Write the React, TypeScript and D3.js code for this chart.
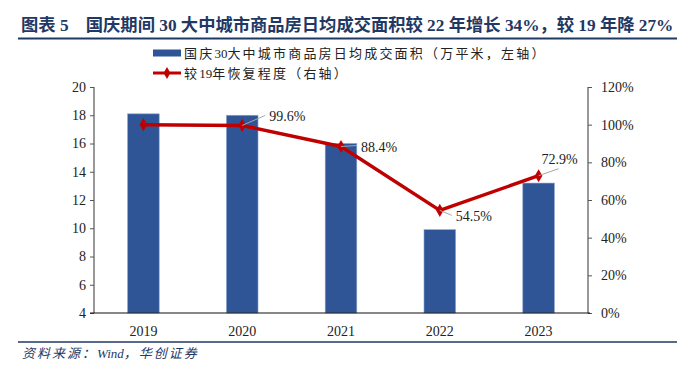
import React, { useEffect, useRef } from 'react';
import * as d3 from 'd3';

// chart data
const years = ['2019', '2020', '2021', '2022', '2023'];
const dailyArea = [18.1, 18.0, 16.0, 9.9, 13.2];
const recovery = [100, 99.6, 88.4, 54.5, 72.9];
const recoveryLabels = ['', '99.6%', '88.4%', '54.5%', '72.9%'];
const leftTicks = [4, 6, 8, 10, 12, 14, 16, 18, 20];
const rightTicks = [0, 20, 40, 60, 80, 100, 120];

const TITLE = '图表 5　国庆期间 30 大中城市商品房日均成交面积较 22 年增长 34%，较 19 年降 27%';
const BAR_NAME = ['国庆', '30', '大中城市商品房日均成交面积（万平米，左轴）'];
const LINE_NAME = ['较', '19', '年恢复程度（右轴）'];
const SOURCE = ['资料来源：', 'Wind', '，华创证券'];

const FONT = "'Liberation Serif', 'Noto Sans CJK SC', serif";
const BLUE = '#2F5597';
const RED = '#C00000';
const DARK = '#1F3864';

// cjk parts get extra spacing, latin/digit parts none
function spaced(sel: any, parts: string[], gap: number) {
  parts.forEach((p, i) => {
    sel.append('tspan')
      .style('letter-spacing', i % 2 === 0 ? gap + 'px' : '0px')
      .text(p);
  });
}

export default function App() {
  const ref = useRef<SVGSVGElement>(null);

  useEffect(() => {
    const svg = d3.select(ref.current);
    svg.selectAll('*').remove();

    const margin = { top: 87, left: 94, right: 105, bottom: 57 };
    const W = 693, H = 370;
    const width = W - margin.left - margin.right;
    const height = H - margin.top - margin.bottom;

    // TITLE + RULES
    svg.append('text')
      .attr('x', 21).attr('y', 31)
      .style('font-family', FONT).style('font-size', '17.3px').style('font-weight', 'bold')
      .attr('fill', DARK)
      .text(TITLE);
    svg.append('line').attr('x1', 18).attr('x2', 677).attr('y1', 38.5).attr('y2', 38.5)
      .attr('stroke', DARK).attr('stroke-width', 2);
    svg.append('line').attr('x1', 18).attr('x2', 677).attr('y1', 342).attr('y2', 342)
      .attr('stroke', DARK).attr('stroke-width', 1.5);
    const src = svg.append('text')
      .attr('x', 22).attr('y', 358)
      .style('font-family', FONT).style('font-size', '13px').style('font-style', 'italic')
      .attr('fill', DARK);
    spaced(src, SOURCE, 2);

    // LEGEND
    const lg = svg.append('g')
      .style('font-family', FONT).style('font-size', '13px')
      .attr('fill', '#222');
    lg.append('rect').attr('x', 153).attr('y', 49.5).attr('width', 28).attr('height', 7).attr('fill', BLUE);
    spaced(lg.append('text').attr('x', 184).attr('y', 58), BAR_NAME, 2.2);
    lg.append('line').attr('x1', 153).attr('x2', 181).attr('y1', 73).attr('y2', 73)
      .attr('stroke', RED).attr('stroke-width', 3);
    lg.append('path').attr('transform', 'translate(167,73)')
      .attr('d', d3.symbol(d3.symbolDiamond, 40)()).attr('fill', RED);
    spaced(lg.append('text').attr('x', 184).attr('y', 78), LINE_NAME, 2.2);

    const g = svg.append('g').attr('transform', `translate(${margin.left},${margin.top})`);

    // SCALES
    const x = d3.scaleBand().domain(years).range([0, width]).padding(0);
    const yL = d3.scaleLinear().domain([4, 20]).range([height, 0]);
    const yR = d3.scaleLinear().domain([0, 120]).range([height, 0]);
    const barW = x.bandwidth() * 0.32;
    const cx = (d: string) => (x(d) as number) + x.bandwidth() / 2;

    // BARS
    g.selectAll('rect.bar').data(years).enter().append('rect')
      .attr('class', 'bar')
      .attr('x', d => cx(d) - barW / 2)
      .attr('width', barW)
      .attr('y', (d, i) => yL(dailyArea[i]))
      .attr('height', (d, i) => height - yL(dailyArea[i]))
      .attr('fill', BLUE)
      .attr('stroke', '#8EA6D0').attr('stroke-width', 0.6);

    // AXES
    const axisL = g.append('g').call(d3.axisLeft(yL).tickValues(leftTicks).tickSize(4).tickPadding(4));
    const axisR = g.append('g').attr('transform', `translate(${width},0)`)
      .call(d3.axisRight(yR).tickValues(rightTicks).tickSize(4).tickPadding(9).tickFormat(d => d + '%'));
    [axisL, axisR].forEach(a => {
      a.select('.domain').attr('stroke', '#555').attr('stroke-width', 1.2).attr('d', `M0,0V${height}`);
      a.selectAll('.tick line').attr('stroke', '#555');
      a.selectAll('text').style('font-family', FONT).style('font-size', '14px').attr('fill', '#222');
    });

    g.append('line').attr('x1', -4).attr('x2', width + 2).attr('y1', height).attr('y2', height)
      .attr('stroke', '#111').attr('stroke-width', 1.2);
    g.selectAll('text.xl').data(years).enter().append('text')
      .attr('class', 'xl')
      .attr('x', d => cx(d)).attr('y', height + 23)
      .attr('text-anchor', 'middle')
      .style('font-family', FONT).style('font-size', '14px').attr('fill', '#222')
      .text(d => d);

    // LINE
    const line = d3.line<number>()
      .x((d, i) => cx(years[i]))
      .y(d => yR(d));
    g.append('path').datum(recovery)
      .attr('fill', 'none').attr('stroke', RED).attr('stroke-width', 3.5)
      .attr('stroke-linejoin', 'round')
      .attr('d', line);
    g.selectAll('path.mk').data(recovery).enter().append('path')
      .attr('class', 'mk')
      .attr('transform', (d, i) => `translate(${cx(years[i])},${yR(d)})`)
      .attr('d', d3.symbol(d3.symbolDiamond, 50)())
      .attr('fill', RED);

    // DATA LABELS WITH LEADER LINES (offsets from point)
    const labelOff = [[0, 0], [27, -9], [20, 0], [16, 6], [3, -17]];
    const leaderEnd = [[0, 0], [23, -10], [16, -1], [12, 5], [20, -7]];
    recovery.forEach((v, i) => {
      if (!recoveryLabels[i]) return;
      const px = cx(years[i]), py = yR(v);
      g.append('line')
        .attr('x1', px).attr('y1', py)
        .attr('x2', px + leaderEnd[i][0]).attr('y2', py + leaderEnd[i][1])
        .attr('stroke', '#A6A6A6').attr('stroke-width', 1);
      g.append('text')
        .attr('x', px + labelOff[i][0]).attr('y', py + labelOff[i][1] + 5)
        .style('font-family', FONT).style('font-size', '14px').attr('fill', '#222')
        .text(recoveryLabels[i]);
    });
  }, []);

  return (
    <div style={{ margin: -8 }}>
      <svg ref={ref} width={693} height={370} style={{ display: 'block', background: '#fff' }} />
    </div>
  );
}
